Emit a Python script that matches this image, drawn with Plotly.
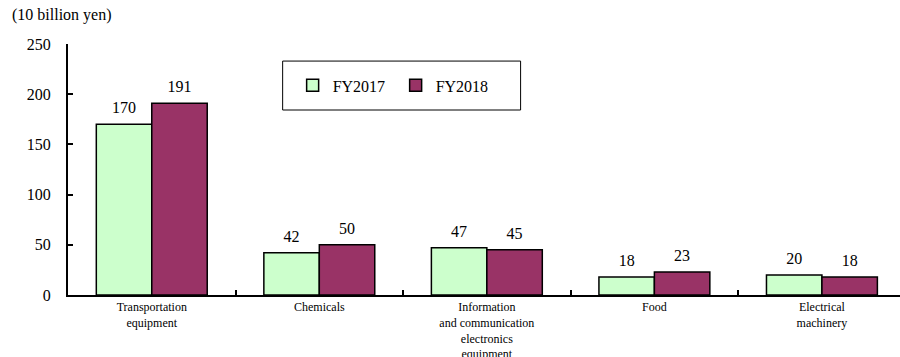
import plotly.graph_objects as go

# Data (10 billion yen)
categories = [
    "Transportation<br>equipment",
    "Chemicals",
    "Information<br>and communication<br>electronics<br>equipment",
    "Food",
    "Electrical<br>machinery",
]
fy2017 = [170, 42, 47, 18, 20]
fy2018 = [191, 50, 45, 23, 18]
series_names = ["FY2017", "FY2018"]
y_ticks = [0, 50, 100, 150, 200, 250]

FONT = "Liberation Serif"
colors = ["#CCFFCC", "#993366"]
GAP = 0.338

fig = go.Figure()
for name, vals, col in zip(series_names, [fy2017, fy2018], colors):
    fig.add_trace(go.Bar(
        x=categories, y=vals, name=name,
        marker=dict(color=col, line=dict(color="black", width=1.5)),
    ))
# Value labels, grouped the same way as the bars (invisible markers give the gap)
for name, vals in zip(series_names, [fy2017, fy2018]):
    fig.add_trace(go.Scatter(
        x=categories, y=vals, mode="markers+text", showlegend=False,
        text=[str(v) for v in vals], textposition="top center",
        marker=dict(size=10, color="rgba(0,0,0,0)"),
        textfont=dict(family=FONT, size=16, color="black"),
        cliponaxis=False, hoverinfo="skip",
    ))

# Legend frame
fig.add_shape(type="rect", xref="paper", yref="paper",
              x0=0.258, x1=0.544, y0=0.737, y1=0.932,
              line=dict(color="black", width=1), fillcolor="white", layer="below")

fig.add_annotation(text="(10 billion yen)", xref="paper", yref="paper",
                   x=-0.07, y=1.07, xanchor="left", yanchor="bottom",
                   showarrow=False, font=dict(family=FONT, size=16, color="black"))

fig.update_layout(
    width=900, height=357,
    margin=dict(l=68, r=0, t=44, b=62, autoexpand=False),
    plot_bgcolor="white", paper_bgcolor="white",
    barmode="group", bargap=GAP, bargroupgap=0,
    scattermode="group", scattergap=GAP,
    font=dict(family=FONT, size=16, color="black"),
    showlegend=True,
    legend=dict(orientation="h", x=0.27, y=0.835, xanchor="left", yanchor="middle",
                bgcolor="rgba(0,0,0,0)", borderwidth=0,
                font=dict(family=FONT, size=16, color="black"),
                entrywidth=58, itemwidth=30, tracegroupgap=0),
)
fig.update_xaxes(
    range=[-0.5, 4.466], showline=True, linecolor="black", linewidth=2,
    ticks="inside", tickson="boundaries", ticklen=5, tickwidth=1.5, tickcolor="black",
    tickfont=dict(family=FONT, size=12, color="black"), showgrid=False,
    tickangle=0, automargin=False,
)
fig.update_yaxes(
    range=[0, 250], tickvals=y_ticks, showline=True, linecolor="black", linewidth=2,
    ticks="inside", ticklen=5, tickwidth=1.5, tickcolor="black",
    tickfont=dict(family=FONT, size=16, color="black"), showgrid=False, zeroline=False,
    automargin=False, ticklabelstandoff=12,
)

fig.write_html("out.html")
